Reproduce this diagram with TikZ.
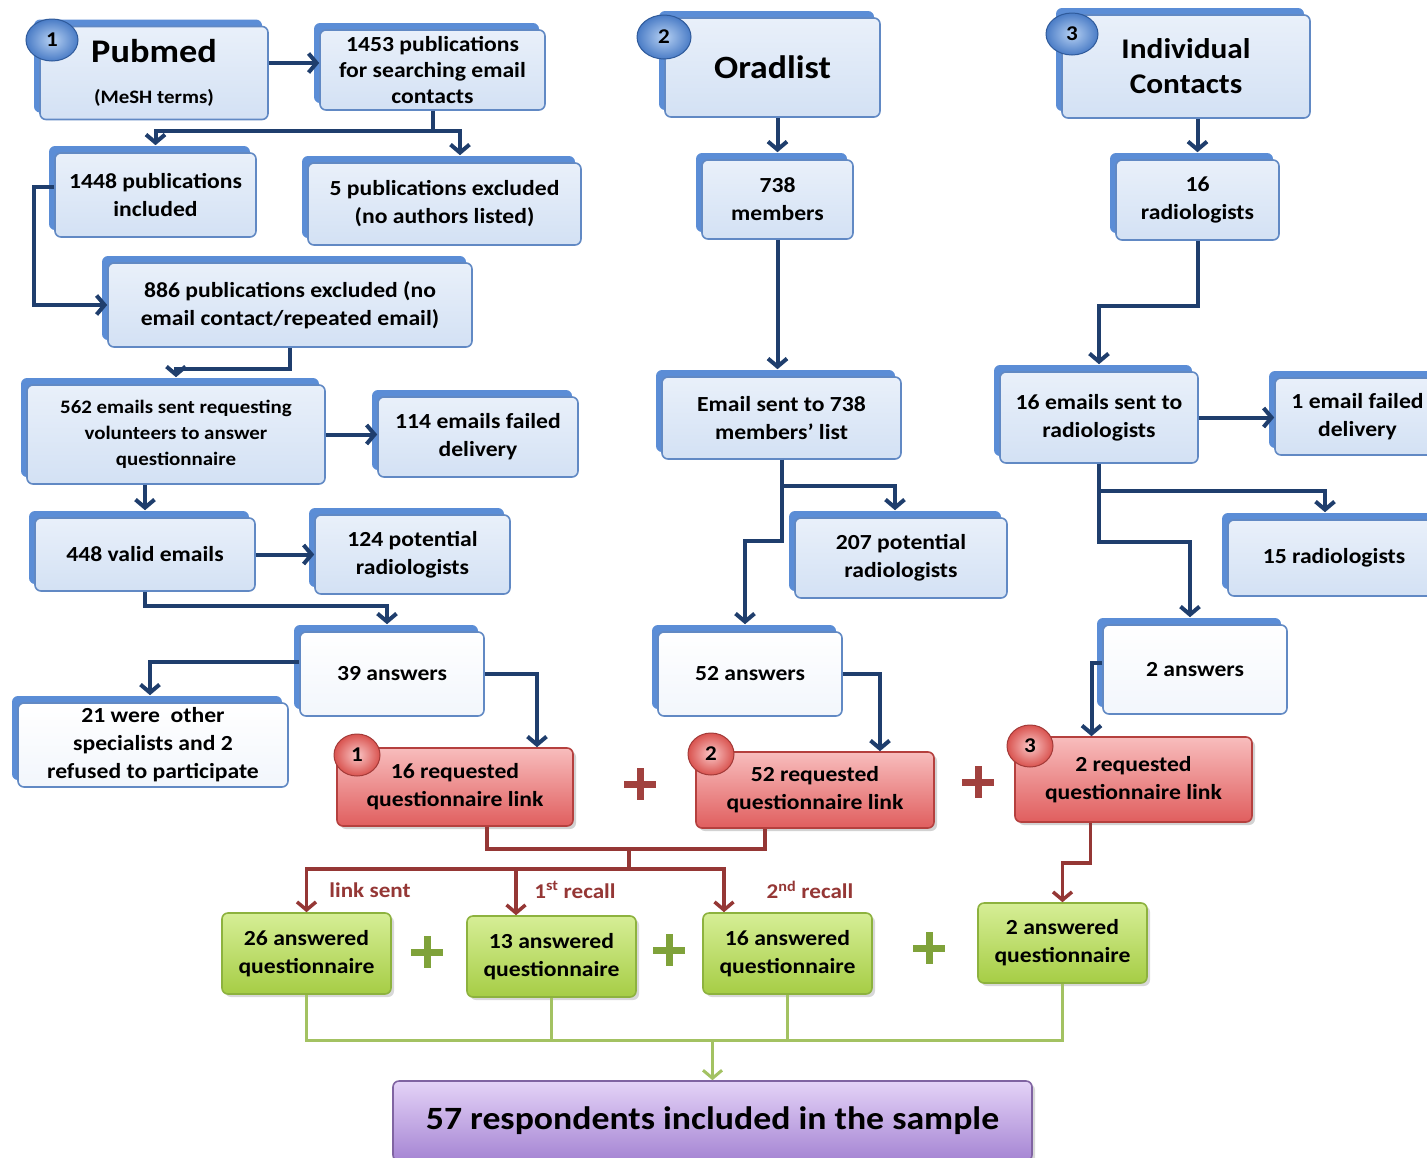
\documentclass[tikz,border=0pt]{standalone}
\usepackage{fontspec}
\setmainfont{Carlito}[FakeStretch=1.1]
\usetikzlibrary{arrows.meta,shadows,shapes.geometric,calc}
\definecolor{bline}{HTML}{6189C4}
\definecolor{tabblue}{HTML}{5B8DD6}
\definecolor{btop}{HTML}{E9F0FA}
\definecolor{bbot}{HTML}{D3E1F4}
\definecolor{wtop}{HTML}{FFFFFF}
\definecolor{wbot}{HTML}{F2F6FC}
\definecolor{conn}{HTML}{1F3E6D}
\definecolor{rline}{HTML}{953735}
\definecolor{rtop}{HTML}{F8BDBD}
\definecolor{rbot}{HTML}{E05E5E}
\definecolor{rborder}{HTML}{B5403E}
\definecolor{gtop}{HTML}{D6EE96}
\definecolor{gbot}{HTML}{A6CD45}
\definecolor{gborder}{HTML}{8DB23E}
\definecolor{gline}{HTML}{A3C262}
\definecolor{ptop}{HTML}{E4D3F7}
\definecolor{pbot}{HTML}{A584D3}
\definecolor{pborder}{HTML}{8064A2}
\definecolor{plusred}{HTML}{A1413E}
\definecolor{plusgreen}{HTML}{7FA23A}
\definecolor{bbin}{HTML}{B7D1F3}
\definecolor{bbout}{HTML}{4A7CC6}
\definecolor{bbdraw}{HTML}{2F5A9A}
\definecolor{rbin}{HTML}{FAC6C6}
\definecolor{rbout}{HTML}{D9534F}
\definecolor{rbdraw}{HTML}{A33A38}
\tikzset{
  base/.style={rounded corners=6pt, align=center, inner sep=2pt, text=black,
    font=\fontsize{21.5}{28}\selectfont\bfseries},
  bluebox/.style={base, draw=bline, line width=1.6pt, top color=btop, bottom color=bbot,
    copy shadow={shadow xshift=-6pt, shadow yshift=7pt, fill=tabblue, draw=none}},
  whitebox/.style={bluebox, top color=wtop, bottom color=wbot},
  redbox/.style={base, draw=rborder, line width=1.6pt, top color=rtop, bottom color=rbot,
    drop shadow={shadow xshift=3pt, shadow yshift=-3pt, opacity=.35}},
  greenbox/.style={base, draw=gborder, line width=1.6pt, top color=gtop, bottom color=gbot,
    drop shadow={shadow xshift=3pt, shadow yshift=-3pt, opacity=.3}},
  purplebox/.style={base, draw=pborder, line width=1.6pt, top color=ptop, bottom color=pbot,
    drop shadow={shadow xshift=3pt, shadow yshift=-3pt, opacity=.3},
    font=\fontsize{32.5}{36}\selectfont\bfseries},
  bbadge/.style={ellipse, minimum width=52pt, minimum height=42pt, inner sep=0pt,
    shading=radial, inner color=bbin, outer color=bbout, draw=bbdraw, line width=1pt,
    font=\fontsize{21}{24}\selectfont\bfseries, text=black},
  rbadge/.style={ellipse, minimum width=46pt, minimum height=42pt, inner sep=0pt,
    shading=radial, inner color=rbin, outer color=rbout, draw=rbdraw, line width=1pt,
    font=\fontsize{21}{24}\selectfont\bfseries, text=black},
  conn/.style={draw=conn, line width=4pt},
  barr/.style={-{Straight Barb[length=8pt,width=19pt]}},
  rconn/.style={draw=rline, line width=3.5pt},
  gconn/.style={draw=gline, line width=3pt},
  lbl/.style={text=rline, font=\fontsize{21}{24}\selectfont\bfseries, inner sep=0pt},
  plusr/.style={draw=plusred, line width=7pt},
  plusg/.style={draw=plusgreen, line width=7pt},
}
\newcommand\plussign[3]{\draw[#3] (#1-16,#2) -- (#1+16,#2) (#1,#2-16) -- (#1,#2+16);}
\begin{document}
\begin{tikzpicture}[x=1pt,y=-1pt]
\useasboundingbox (0,0) rectangle (1427,1157);
\fill[white] (0,0) rectangle (1427,1157);
\clip (0,0) rectangle (1427,1157);

% ---------- column 1: Pubmed ----------
\node[bluebox, minimum width=228pt, minimum height=93pt] (pubmed) at (154,73)
  {{\fontsize{33}{36}\selectfont Pubmed}\\[13pt]{\fontsize{19}{22}\selectfont (MeSH terms)}};
\node[bluebox, minimum width=225pt, minimum height=80pt, font=\fontsize{21.5}{26}\selectfont\bfseries] (p1453) at (432.5,70)
  {1453 publications\\for searching email\\contacts};
\node[bluebox, minimum width=201pt, minimum height=84pt] (p1448) at (155.5,195)
  {1448 publications\\included};
\node[bluebox, minimum width=273pt, minimum height=82pt] (p5) at (444.5,204)
  {5 publications excluded\\(no authors listed)};
\node[bluebox, minimum width=364pt, minimum height=84pt] (p886) at (290,305)
  {886 publications excluded (no\\email contact/repeated email)};
\node[bluebox, minimum width=298pt, minimum height=99pt, font=\fontsize{19}{26}\selectfont\bfseries] (e562) at (176,434.5)
  {562 emails sent requesting\\volunteers to answer\\questionnaire};
\node[bluebox, minimum width=200pt, minimum height=80pt] (f114) at (478,437)
  {114 emails failed\\delivery};
\node[bluebox, minimum width=220pt, minimum height=73pt] (v448) at (145,554.5)
  {448 valid emails};
\node[bluebox, minimum width=195pt, minimum height=79pt] (r124) at (412.5,554.5)
  {124 potential\\radiologists};
\node[whitebox, minimum width=184pt, minimum height=84pt] (a39) at (392,674)
  {39 answers};
\node[whitebox, minimum width=270pt, minimum height=84pt] (o21) at (153,745)
  {21 were~ other\\specialists and 2\\refused to participate};
\node[redbox, minimum width=236pt, minimum height=78pt] (q16) at (455,787)
  {16 requested\\questionnaire link};

% ---------- column 2: Oradlist ----------
\node[bluebox, minimum width=215pt, minimum height=99pt, font=\fontsize{32.5}{36}\selectfont\bfseries] (orad) at (772.5,67.5)
  {Oradlist};
\node[bluebox, minimum width=151pt, minimum height=79pt] (m738) at (777.5,199.5)
  {738\\members};
\node[bluebox, minimum width=239pt, minimum height=82pt] (s738) at (781.5,418)
  {Email sent to 738\\members' list};
\node[bluebox, minimum width=212pt, minimum height=80pt] (r207) at (901,558)
  {207 potential\\radiologists};
\node[whitebox, minimum width=184pt, minimum height=84pt] (a52) at (750,674)
  {52 answers};
\node[redbox, minimum width=238pt, minimum height=76pt] (q52) at (815,790)
  {52 requested\\questionnaire link};

% ---------- column 3: Individual contacts ----------
\node[bluebox, minimum width=248pt, minimum height=103pt, font=\fontsize{28.5}{35}\selectfont\bfseries] (ic) at (1186,66.5)
  {Individual\\Contacts};
\node[bluebox, minimum width=163pt, minimum height=80pt] (r16) at (1197.5,200)
  {16\\radiologists};
\node[bluebox, minimum width=198pt, minimum height=91pt] (s16) at (1099,417.5)
  {16 emails sent to\\radiologists};
\node[bluebox, minimum width=165pt, minimum height=77pt] (f1) at (1357.5,416.5)
  {1 email failed\\delivery};
\node[bluebox, minimum width=212pt, minimum height=76pt] (r15) at (1334,558)
  {15 radiologists};
\node[whitebox, minimum width=184pt, minimum height=89pt] (a2) at (1195,669.5)
  {2 answers};
\node[redbox, minimum width=237pt, minimum height=85pt] (q2) at (1133.5,779.5)
  {2 requested\\questionnaire link};

% ---------- answered questionnaires ----------
\node[greenbox, minimum width=169pt, minimum height=81pt] (g26) at (306.5,953.5)
  {26 answered\\questionnaire};
\node[greenbox, minimum width=169pt, minimum height=81pt] (g13) at (551.5,956.5)
  {13 answered\\questionnaire};
\node[greenbox, minimum width=169pt, minimum height=81pt] (g16) at (787.5,953.5)
  {16 answered\\questionnaire};
\node[greenbox, minimum width=169pt, minimum height=80pt] (g2) at (1062.5,943)
  {2 answered\\questionnaire};
\node[purplebox, minimum width=639pt, minimum height=80pt] (s57) at (712.5,1121)
  {57 respondents included in the sample};

% ---------- badges ----------
\node[bbadge] (bd1) at (52,40) {1};
\node[bbadge, minimum width=54pt, minimum height=44pt] (bd2) at (664,37) {2};
\node[bbadge] (bd3) at (1072,34) {3};
\node[rbadge] (rb1) at (357,755) {1};
\node[rbadge] (rb2) at (711,754) {2};
\node[rbadge] (rb3) at (1030,746) {3};

% ---------- labels ----------
\node[lbl] (l1) at (370,890) {link sent};
\node[lbl] (l2) at (575,890) {1\textsuperscript{st} recall};
\node[lbl] (l3) at (810,890) {2\textsuperscript{nd} recall};

% ---------- plus signs ----------
\plussign{640}{784}{plusr}
\plussign{978}{782}{plusr}
\plussign{427}{952}{plusg}
\plussign{669}{950}{plusg}
\plussign{929}{948}{plusg}

% ---------- blue connectors ----------
\draw[conn,barr] (pubmed.east |- 0,63) -- (p1453.west |- 0,63);
\draw[conn,barr] (p1453.south) -- ++(0,20) -| ([yshift=7pt]p1448.north);
\draw[conn,barr] (p1453.south) -- ++(0,20) -| ([yshift=7pt,xshift=15.5pt]p5.north);
\draw[conn,barr] ([yshift=8pt]p1448.west) -- ++(-20,0) |- (p886.west);
\draw[conn,barr] (p886.south) -- ++(0,21) -| ([yshift=7pt]e562.north);
\draw[conn,barr] (e562.east) -- (e562.east -| f114.west);
\draw[conn,barr] (e562.south -| v448.north) -- ([yshift=7pt]v448.north);
\draw[conn,barr] (v448.east) -- (r124.west);
\draw[conn,barr] (v448.south) -- ++(0,14) -| ([yshift=7pt,xshift=-5pt]a39.north);
\draw[conn,barr] ([yshift=12pt]a39.west) -| ([yshift=7pt,xshift=-3pt]o21.north);
\draw[conn,barr] (a39.east) -| ([xshift=82pt]q16.north);

\draw[conn,barr] (orad.south -| m738.north) -- ([yshift=7pt]m738.north);
\draw[conn,barr] (m738.south) -- ([yshift=7pt]m738.south |- s738.north);
\draw[conn,barr] (s738.south) -- ++(0,26) -| ([yshift=7pt,xshift=-6pt]r207.north);
\draw[conn,barr] (s738.south) -- ++(0,81) -| ([yshift=7pt,xshift=-5pt]a52.north);
\draw[conn,barr] (a52.east) -| ([xshift=65pt]q52.north);

\draw[conn,barr] (ic.south -| r16.north) -- ([yshift=7pt]r16.north);
\draw[conn,barr] (r16.south) -- ++(0,65) -| ([yshift=7pt]s16.north);
\draw[conn,barr] (s16.east) -- (s16.east -| f1.west);
\draw[conn,barr] (s16.south) -- ++(0,27) -| ([yshift=7pt,xshift=-9pt]r15.north);
\draw[conn,barr] (s16.south) -- ++(0,78) -| ([yshift=7pt,xshift=-5pt]a2.north);
\draw[conn,barr] ([yshift=7pt]a2.west) -| ([xshift=-42pt]q2.north);

% ---------- red connectors ----------
\draw[rconn] ([xshift=32pt]q16.south) -- ++(0,22) -| ([xshift=-50pt]q52.south);
\coordinate (rmid) at ($([xshift=32pt]q16.south)+(142,22)$);
\draw[rconn] (rmid) -- ++(0,20) coordinate (rbr);
\draw[rconn,barr] (rbr) -| (g26.north);
\draw[rconn,barr] (rbr) -| ([xshift=-35.5pt]g13.north);
\draw[rconn,barr] (rbr) -| ([xshift=-63.5pt]g16.north);
\draw[rconn,barr] ([xshift=-43pt]q2.south) -- ++(0,40) -| (g2.north);

% ---------- green connectors ----------
\draw[gconn] (g26.south) -- ++(0,46) coordinate (gl) -- (gl -| g2.south) -- (g2.south);
\draw[gconn] (g13.south) -- (g13.south |- gl);
\draw[gconn] (g16.south) -- (g16.south |- gl);
\draw[gconn,barr] (gl -| s57.north) -- (s57.north);
\end{tikzpicture}
\end{document}
